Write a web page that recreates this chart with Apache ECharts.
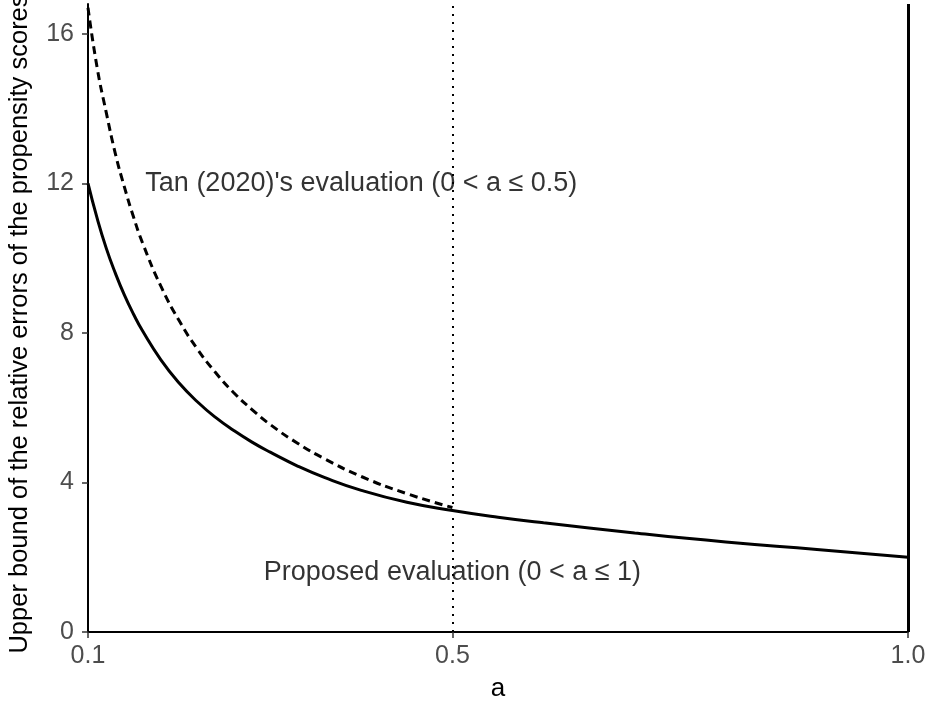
<!DOCTYPE html>
<html>
<head>
<meta charset="utf-8">
<script src="https://cdn.jsdelivr.net/npm/echarts@6/dist/echarts.min.js"></script>
<style>
  html, body { margin: 0; padding: 0; background: #fff; }
  #main { width: 933px; height: 704px; }
</style>
</head>
<body>
<div id="main"></div>
<script>
// values
var aProposed = [0.10, 0.11, 0.12, 0.13, 0.14, 0.15, 0.16, 0.18, 0.20, 0.22, 0.24, 0.26, 0.28, 0.30, 0.33, 0.36, 0.40, 0.45, 0.50, 0.55, 0.60, 0.70, 0.80, 0.90, 1.00];
var proposed = [12.0, 11.07, 10.27, 9.60, 9.01, 8.50, 8.05, 7.28, 6.66, 6.16, 5.74, 5.39, 5.08, 4.81, 4.44, 4.13, 3.79, 3.47, 3.25, 3.07, 2.92, 2.65, 2.41, 2.21, 2.00];

var aTan = [0.10, 0.11, 0.12, 0.13, 0.14, 0.15, 0.16, 0.18, 0.20, 0.22, 0.24, 0.26, 0.28, 0.30, 0.33, 0.36, 0.40, 0.45, 0.50];
var tan = [16.7, 15.1, 13.9, 12.8, 11.9, 11.1, 10.4, 9.25, 8.33, 7.57, 6.94, 6.40, 5.95, 5.55, 5.05, 4.63, 4.16, 3.70, 3.33];

var xTicks = [0.1, 0.5, 1.0];
var yTicks = [0, 4, 8, 12, 16];
var refLines = [0.5, 1.0];

var notes = [
  [0.4, 12, "Tan (2020)'s evaluation (0 < a \u2264 0.5)"],
  [0.5, 1.6, 'Proposed evaluation (0 < a \u2264 1)']
];

function pairs(xs, ys) {
  return xs.map(function (x, i) { return [x, ys[i]]; });
}

var font = 'Liberation Sans';

var option = {
  backgroundColor: '#fff',
  animation: false,
  grid: { left: 88, right: 25, top: 4, bottom: 72, containLabel: false, outerBoundsMode: 'none' },
  xAxis: {
    type: 'value',
    min: 0.1,
    max: 1.0,
    name: 'a',
    nameLocation: 'middle',
    nameGap: 44,
    nameTextStyle: { color: '#000', fontSize: 26, fontFamily: font },
    splitLine: { show: false },
    axisLine: { show: true, lineStyle: { color: '#000', width: 2 } },
    axisTick: { show: true, length: 6, customValues: xTicks, lineStyle: { color: '#333', width: 1.5 } },
    axisLabel: {
      customValues: xTicks,
      color: '#4d4d4d',
      fontSize: 25,
      fontFamily: font,
      margin: 12,
      formatter: function (v) { return v.toFixed(1); }
    }
  },
  yAxis: {
    type: 'value',
    min: 0,
    max: 16.8,
    name: 'Upper bound of the relative errors of the propensity scores',
    nameLocation: 'middle',
    nameGap: 55,
    nameRotate: 90,
    nameTextStyle: { color: '#000', fontSize: 25.5, fontFamily: font, padding: [0, 12, 0, 0] },
    splitLine: { show: false },
    axisLine: { show: true, lineStyle: { color: '#000', width: 2 } },
    axisTick: { show: true, length: 6, customValues: yTicks, lineStyle: { color: '#333', width: 1.5 } },
    axisLabel: {
      customValues: yTicks,
      color: '#4d4d4d',
      fontSize: 25,
      fontFamily: font,
      margin: 14
    }
  },
  series: [
    {
      name: 'Proposed',
      type: 'line',
      data: pairs(aProposed, proposed),
      smooth: true,
      symbol: 'none',
      lineStyle: { color: '#000', width: 3 },
      markLine: {
        silent: true,
        symbol: 'none',
        label: { show: false },
        data: [
          { xAxis: refLines[0], lineStyle: { type: [2, 6], color: '#000', width: 2 } },
          { xAxis: refLines[1], lineStyle: { type: 'solid', color: '#000', width: 3 } }
        ]
      },
      z: 3
    },
    {
      name: 'Tan',
      type: 'line',
      data: pairs(aTan, tan),
      smooth: true,
      symbol: 'none',
      lineStyle: { color: '#000', width: 3, type: [8, 5] },
      z: 3
    },
    {
      name: 'notes',
      type: 'scatter',
      data: notes,
      symbolSize: 0,
      silent: true,
      label: {
        show: true,
        position: 'inside',
        formatter: function (p) { return p.data[2]; },
        color: '#000',
        fontSize: 27,
        fontFamily: font
      },
      z: 5
    }
  ]
};

var myChart = echarts.init(document.getElementById('main'));
myChart.setOption(option);
window.addEventListener('resize', function () {
  myChart.resize();
});
</script>
</body>
</html>
